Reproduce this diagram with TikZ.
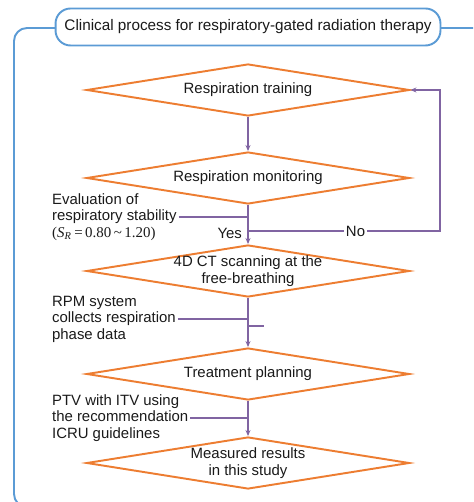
\documentclass[tikz,border=0pt]{standalone}
\usepackage{fontspec}
\setmainfont{Liberation Sans}
\newfontfamily\formulafont{Liberation Serif}
\usepackage{xcolor}
\usetikzlibrary{arrows.meta,positioning,shapes.geometric}
\definecolor{frameblue}{HTML}{5B9BD5}
\definecolor{steporange}{HTML}{ED7D31}
\definecolor{linkpurple}{HTML}{8064A2}
\definecolor{ink}{HTML}{1A1A1A}
\tikzset{
  titlebox/.style={draw=frameblue,fill=white,line width=1.1pt,rounded corners=0.3cm,
                   minimum width=7.7cm,minimum height=0.74cm,inner sep=0pt,
                   font=\fontsize{8.7}{9.4}\selectfont,text=ink},
  framebox/.style={draw=frameblue,line width=1.1pt,rounded corners=0.26cm},
  stepdiamond/.style={diamond,draw=steporange,fill=white,line width=1.1pt,
                      shape aspect=6.2,minimum width=6.46cm,minimum height=1.04cm,
                      inner sep=0pt,inner xsep=-8pt,align=center,
                      font=\fontsize{8.5}{9.4}\selectfont,text=ink},
  notetext/.style={align=left,inner sep=1pt,font=\fontsize{8.5}{9.4}\selectfont,text=ink},
  flowarr/.style={-{Stealth[length=1.2mm,width=1mm]},line width=0.6pt,color=linkpurple},
  noteline/.style={line width=0.6pt,color=linkpurple}
}

\begin{document}
\begin{tikzpicture}[x=0.02cm,y=-0.02cm,>=Latex]
  \useasboundingbox (0,0) rectangle (473,502);
  \begin{scope}
    \clip (0,0) rectangle (473,502);
    \draw[framebox] (14,28) rectangle (520,507);
  \end{scope}
  \node[titlebox] (title) at (248,27) {Clinical process for respiratory-gated radiation therapy};

  % main steps
  \node[stepdiamond] (train) at (248,90) {Respiration training};
  \node[stepdiamond] (monitor) at (248,178) {Respiration monitoring};
  \node[stepdiamond] (scan) at (248,271) {4D CT scanning at the\\free-breathing};
  \node[stepdiamond] (plan) at (248,374) {Treatment planning};
  \node[stepdiamond] (result) at (248,463) {Measured results\\in this study};

  \coordinate (split) at (248,231);
  \coordinate (loop) at (440,90);
  \draw[flowarr] (train) -- (monitor);
  \draw[flowarr] (monitor) -- (scan);
  \draw[flowarr] (split) -| node[pos=0.28,fill=white,inner sep=1pt,
      font=\fontsize{8.5}{9.4}\selectfont,text=ink] (no) {No} (loop) -- (train.east);
  \node[notetext,anchor=east] (yes) at (244,233) {Yes};
  \draw[flowarr] (scan) -- (plan);
  \draw[flowarr] (plan) -- (result);

  % side notes
  \node[notetext,anchor=west] (evalnote) at (50,217) {Evaluation of\\respiratory stability\\
    {\formulafont(\textit{S}\textsubscript{\textit{R}}\,=\,0.80\,\textasciitilde\,1.20)}};
  \draw[noteline] (evalnote.east) -- (evalnote.east -| monitor.south);

  \node[notetext,anchor=west] (rpmnote) at (50,319) {RPM system\\collects respiration\\phase data};
  \draw[noteline] (rpmnote.east) -- (rpmnote.east -| scan.south);
  \draw[noteline] ([yshift=-0.14cm]rpmnote.east -| scan.south) -- ++(16,0);

  \node[notetext,anchor=west] (ptvnote) at (50,418) {PTV with ITV using\\the recommendation\\ICRU guidelines};
  \draw[noteline] (ptvnote.east) -- (ptvnote.east -| plan.south);
\end{tikzpicture}
\end{document}
